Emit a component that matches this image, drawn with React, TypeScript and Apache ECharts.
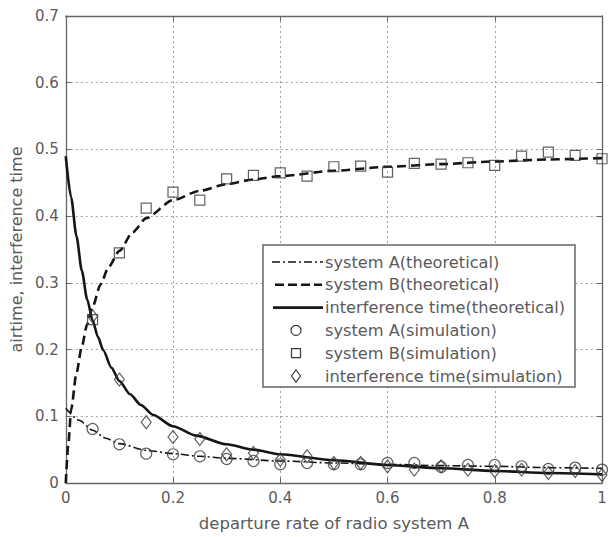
import React, { useEffect, useRef } from "react";
import * as echarts from "echarts";

// Tick labels
const xTickValues = [0, 0.2, 0.4, 0.6, 0.8, 1];
const xTickLabels = ["0", "0.2", "0.4", "0.6", "0.8", "1"];
const yTickValues = [0, 0.1, 0.2, 0.3, 0.4, 0.5, 0.6, 0.7];
const yTickLabels = ["0", "0.1", "0.2", "0.3", "0.4", "0.5", "0.6", "0.7"];

// Theoretical curves
const thAX = [0, 0.025, 0.05, 0.075, 0.1, 0.15, 0.2, 0.25, 0.3, 0.4, 0.5, 0.6, 0.7, 0.8, 0.9, 1.0];
const thAY = [0.112, 0.094, 0.079, 0.067, 0.059, 0.049, 0.044, 0.04, 0.037, 0.033, 0.03, 0.028, 0.026, 0.025, 0.023, 0.022];

const thBX = [0, 0.005, 0.01, 0.02, 0.03, 0.04, 0.05, 0.065, 0.08, 0.1, 0.125, 0.15, 0.2, 0.25, 0.3, 0.35, 0.4, 0.5, 0.6, 0.7, 0.8, 0.9, 1.0];
const thBY = [0, 0.06, 0.11, 0.165, 0.205, 0.238, 0.264, 0.298, 0.324, 0.348, 0.376, 0.397, 0.424, 0.438, 0.448, 0.455, 0.46, 0.468, 0.474, 0.478, 0.482, 0.485, 0.487];

const thIX = [0, 0.01, 0.02, 0.03, 0.04, 0.05, 0.06, 0.07, 0.085, 0.1, 0.12, 0.14, 0.163, 0.2, 0.243, 0.3, 0.35, 0.4, 0.5, 0.6, 0.7, 0.8, 0.9, 1.0];
const thIY = [0.49, 0.428, 0.37, 0.318, 0.275, 0.244, 0.219, 0.199, 0.173, 0.153, 0.133, 0.117, 0.102, 0.085, 0.071, 0.058, 0.05, 0.043, 0.034, 0.027, 0.022, 0.018, 0.015, 0.013];

// Simulation points
const simX = [0.05, 0.1, 0.15, 0.2, 0.25, 0.3, 0.35, 0.4, 0.45, 0.5, 0.55, 0.6, 0.65, 0.7, 0.75, 0.8, 0.85, 0.9, 0.95, 1.0];
const simA = [0.081, 0.058, 0.044, 0.043, 0.04, 0.036, 0.033, 0.028, 0.03, 0.028, 0.028, 0.03, 0.03, 0.024, 0.027, 0.027, 0.025, 0.021, 0.023, 0.02];
const simB = [0.245, 0.345, 0.412, 0.436, 0.424, 0.456, 0.461, 0.465, 0.46, 0.474, 0.475, 0.466, 0.479, 0.478, 0.48, 0.476, 0.49, 0.496, 0.491, 0.486];
const simI = [0.25, 0.155, 0.091, 0.069, 0.066, 0.043, 0.045, 0.035, 0.04, 0.03, 0.03, 0.025, 0.02, 0.025, 0.02, 0.018, 0.02, 0.015, 0.018, 0.012];

const legendNames = [
  "system A(theoretical)",
  "system B(theoretical)",
  "interference time(theoretical)",
  "system A(simulation)",
  "system B(simulation)",
  "interference time(simulation)",
];

const FONT = "DejaVu Sans";
const TXT = "#5a5a5a";
const LINE = "#151515";
const MARK = "#3a3a3a";

const pairs = (xs: number[], ys: number[]) => xs.map((x, i) => [x, ys[i]]);

const fmtX = (v: number) => {
  const i = xTickValues.findIndex((t) => Math.abs(t - v) < 1e-9);
  return i >= 0 ? xTickLabels[i] : "";
};
const fmtY = (v: number) => {
  const i = yTickValues.findIndex((t) => Math.abs(t - v) < 1e-9);
  return i >= 0 ? yTickLabels[i] : "";
};

export default function App() {
  const ref = useRef<HTMLDivElement>(null);
  useEffect(() => {
    if (!ref.current) return;
    const chart = echarts.init(ref.current, null, { renderer: "svg" });

    const L = { x: 263, y: 245, w: 312, h: 142 };
    const rowY = [262, 284.8, 307.6, 330.4, 353.2, 376];
    const textX = 325;
    const lineStyles: any[] = [
      { lineDash: [8, 3, 2, 3], lineWidth: 1.6, x1: 272, x2: 323 },
      { lineDash: [9, 4], lineWidth: 2.6, x1: 275, x2: 322 },
      { lineDash: null, lineWidth: 2.6, x1: 273, x2: 323 },
    ];
    const graphic: any[] = [
      {
        type: "rect",
        shape: { x: L.x, y: L.y, width: L.w, height: L.h },
        style: { fill: "#fff", stroke: "#666", lineWidth: 1.5 },
        z: 100,
      },
    ];
    lineStyles.forEach((ls, i) => {
      graphic.push({
        type: "line",
        shape: { x1: ls.x1, y1: rowY[i], x2: ls.x2, y2: rowY[i] },
        style: { stroke: LINE, lineWidth: ls.lineWidth, lineDash: ls.lineDash },
        z: 101,
      });
    });
    const mx = 296;
    graphic.push({
      type: "circle",
      shape: { cx: mx, cy: rowY[3], r: 5 },
      style: { fill: "none", stroke: MARK, lineWidth: 1.2 },
      z: 101,
    });
    graphic.push({
      type: "rect",
      shape: { x: mx - 4.5, y: rowY[4] - 4.5, width: 9, height: 9 },
      style: { fill: "none", stroke: MARK, lineWidth: 1.2 },
      z: 101,
    });
    graphic.push({
      type: "polygon",
      shape: { points: [[mx, rowY[5] - 6], [mx + 4.5, rowY[5]], [mx, rowY[5] + 6], [mx - 4.5, rowY[5]]] },
      style: { fill: "none", stroke: MARK, lineWidth: 1.2 },
      z: 101,
    });
    legendNames.forEach((n, i) => {
      graphic.push({
        type: "text",
        x: textX,
        y: rowY[i],
        style: {
          text: n,
          fontFamily: FONT,
          fontSize: 16.2,
          fill: TXT,
          verticalAlign: "middle",
          align: "left",
        },
        z: 102,
      });
    });

    const splitStyle = { show: true, lineStyle: { color: "#a0a0a0", type: [2, 3], width: 1 } };
    const axisLine = { show: true, onZero: false, lineStyle: { color: "#666", width: 1.3 } };
    const tick = { show: true, inside: true, length: 5, lineStyle: { color: "#666" } };

    const markerStyle = { color: "rgba(255,255,255,0)", borderColor: MARK, borderWidth: 1.2 };

    chart.setOption({
      animation: false,
      backgroundColor: "#fff",
      grid: { left: 65, right: 9, top: 16, bottom: 53, containLabel: false },
      xAxis: [
        {
          type: "value",
          min: 0,
          max: 1,
          interval: 0.2,
          axisLine,
          axisTick: tick,
          splitLine: splitStyle,
          axisLabel: { color: TXT, fontFamily: FONT, fontSize: 15, margin: 7, formatter: fmtX },
          name: "departure rate of radio system A",
          nameLocation: "middle",
          nameGap: 32,
          nameTextStyle: { color: TXT, fontFamily: FONT, fontSize: 16.5 },
        },
        {
          type: "value",
          position: "top",
          min: 0,
          max: 1,
          interval: 0.2,
          axisLine,
          axisTick: tick,
          splitLine: { show: false },
          axisLabel: { show: false },
        },
      ],
      yAxis: [
        {
          type: "value",
          min: 0,
          max: 0.7,
          interval: 0.1,
          axisLine,
          axisTick: tick,
          splitLine: splitStyle,
          axisLabel: { color: TXT, fontFamily: FONT, fontSize: 15, margin: 7, formatter: fmtY },
          name: "airtime, interference time",
          nameLocation: "middle",
          nameGap: 32,
          nameTextStyle: { color: TXT, fontFamily: FONT, fontSize: 16 },
        },
        {
          type: "value",
          position: "right",
          min: 0,
          max: 0.7,
          interval: 0.1,
          axisLine,
          axisTick: tick,
          splitLine: { show: false },
          axisLabel: { show: false },
        },
      ],
      graphic,
      series: [
        {
          name: legendNames[0],
          type: "line",
          data: pairs(thAX, thAY),
          showSymbol: false,
          symbol: "none",
          smooth: 0.25,
          smoothMonotone: "x",
          lineStyle: { color: LINE, width: 1.6, type: [8, 3, 2, 3] },
          z: 3,
        },
        {
          name: legendNames[1],
          type: "line",
          data: pairs(thBX, thBY),
          showSymbol: false,
          symbol: "none",
          smooth: 0.25,
          smoothMonotone: "x",
          lineStyle: { color: LINE, width: 2.6, type: [9, 5] },
          z: 3,
        },
        {
          name: legendNames[2],
          type: "line",
          data: pairs(thIX, thIY),
          showSymbol: false,
          symbol: "none",
          smooth: 0.25,
          smoothMonotone: "x",
          lineStyle: { color: LINE, width: 2.6 },
          z: 3,
        },
        {
          name: legendNames[3],
          type: "scatter",
          data: pairs(simX, simA),
          symbol: "circle",
          symbolSize: 11,
          itemStyle: markerStyle,
          z: 4,
        },
        {
          name: legendNames[4],
          type: "scatter",
          data: pairs(simX, simB),
          symbol: "rect",
          symbolSize: 10,
          itemStyle: markerStyle,
          z: 4,
        },
        {
          name: legendNames[5],
          type: "scatter",
          data: pairs(simX, simI),
          symbol: "diamond",
          symbolSize: [10, 13],
          itemStyle: markerStyle,
          z: 4,
        },
      ],
    });
    return () => chart.dispose();
  }, []);
  return (
    <div
      ref={ref}
      style={{ position: "absolute", left: 0, top: 0, width: 611, height: 537 }}
    />
  );
}
